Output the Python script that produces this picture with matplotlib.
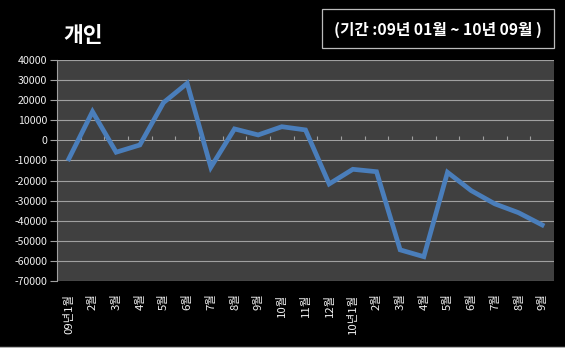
import matplotlib
matplotlib.use("Agg")
import matplotlib.pyplot as plt
from matplotlib.patches import FancyBboxPatch

plt.rcParams['font.family'] = ['Noto Sans CJK KR', 'DejaVu Sans']

# monthly net figures, Jan 2009 - Sep 2010
months = ["09년1월", "2월", "3월", "4월", "5월", "6월", "7월", "8월", "9월", "10월",
          "11월", "12월", "10년1월", "2월", "3월", "4월", "5월", "6월", "7월", "8월", "9월"]
values = [-9200, 14300, -5900, -2300, 18800, 28400, -13400, 5700, 2700, 6800,
          5200, -21700, -14400, -15600, -54500, -57900, -15900, -25000, -31600, -36000, -42100]
yticks = list(range(-70000, 40001, 10000))

title = "개인"
period = "(기간 :09년 01월 ~ 10년 09월 )"

W, H = 565, 348
fig = plt.figure(figsize=(W / 100, H / 100), dpi=100, facecolor="black")
ax = fig.add_axes([57 / W, (H - 281) / H, (554 - 57) / W, (281 - 60) / H])
ax.set_facecolor("#404040")

x = list(range(len(months)))
ax.plot(x, values, color="#4a7ebb", lw=3.4, solid_joinstyle="miter", zorder=3)

ax.set_xlim(-0.5, len(months) - 0.5)
ax.set_ylim(yticks[0], yticks[-1])
ax.set_yticks(yticks)
ax.set_yticklabels([str(v) for v in yticks])
ax.grid(axis="y", color="#a0a0a0", lw=0.8)
ax.set_axisbelow(True)

for s in ["top", "right", "bottom"]:
    ax.spines[s].set_visible(False)
ax.spines["left"].set_color("#a0a0a0")
ax.tick_params(axis="y", colors="#a0a0a0", labelcolor="#f0f0f0", labelsize=7.6,
               length=5, width=0.8, pad=2)

ax.set_xticks(x)
ax.set_xticklabels(months, rotation=90, va="top", ha="center")
ax.tick_params(axis="x", length=0, labelcolor="#f0f0f0", labelsize=8.2, pad=9)

# category axis crossing at zero, with marks between categories
y0, y1 = ax.get_ylim()
zero_pos = (0 - y0) / (y1 - y0)
sec = ax.secondary_xaxis(zero_pos)
sec.set_xticks([i + 0.5 for i in range(len(months) - 1)])
sec.set_xticklabels([])
sec.tick_params(axis="x", direction="out", length=3, width=0.8, colors="#a0a0a0")
sec.spines["bottom"].set_color("#a0a0a0")
sec.spines["bottom"].set_linewidth(0.8)

fig.text(63 / W, 1 - 35 / H, title, color="white", fontsize=15.5, fontweight="bold",
         ha="left", va="center")

box = FancyBboxPatch((322 / W, 1 - 48 / H), (554 - 322) / W, (48 - 9) / H,
                     boxstyle="square,pad=0", transform=fig.transFigure,
                     facecolor="black", edgecolor="#bbbbbb", lw=0.9)
fig.patches.append(box)
fig.text(438 / W, 1 - 30 / H, period, color="white", fontsize=11.3, fontweight="bold",
         ha="center", va="center")

fig.add_artist(plt.Line2D([0, 1], [1.2 / H, 1.2 / H], transform=fig.transFigure,
                          color="#b0b0b0", lw=1))

fig.savefig("out.png", dpi=100, facecolor="black")
